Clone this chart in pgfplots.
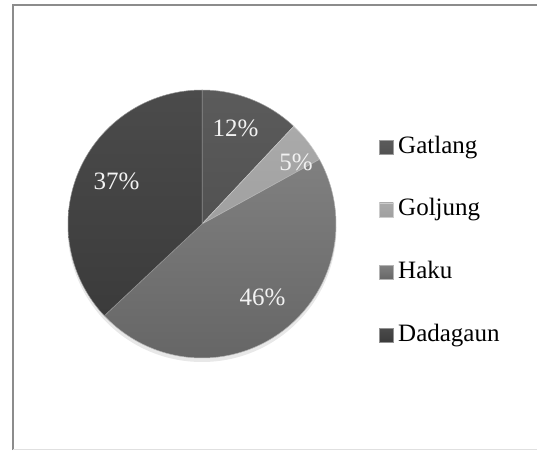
\documentclass[border=0pt]{standalone}
\usepackage{pgfplots}
\pgfplotsset{compat=1.18}
\usepackage{fontspec}
\setmainfont{Liberation Serif}
\definecolor{gatT}{HTML}{5B5B5B}\definecolor{gatB}{HTML}{525252}
\definecolor{golT}{HTML}{AAAAAA}\definecolor{golB}{HTML}{A0A0A0}
\definecolor{hakT}{HTML}{808080}\definecolor{hakB}{HTML}{666666}
\definecolor{dadT}{HTML}{4B4B4B}\definecolor{dadB}{HTML}{3B3B3B}
% percentages
\def\vGat{12}\def\vGol{5}\def\vHak{46}\def\vDad{37}
\pgfmathsetmacro\aA{90}
\pgfmathsetmacro\aB{\aA-3.6*\vGat}
\pgfmathsetmacro\aC{\aB-3.6*\vGol}
\pgfmathsetmacro\aD{\aC-3.6*\vHak}
\pgfmathsetmacro\aE{\aD-3.6*\vDad}
\newcommand\slice[4]{%
  \addplot[top color=#3, bottom color=#4, draw=white!40!#3, line width=0.5pt,
    domain=#2:#1, samples=90, variable=\t]
    ({202+134*cos(\t)},{226+134*sin(\t)}) -- (axis cs:202,226) -- cycle;
}
\begin{document}
\begin{tikzpicture}
\useasboundingbox (0,0) rectangle (537pt,450pt);
\begin{axis}[
  width=537pt, height=450pt, scale only axis,
  xmin=0, xmax=537, ymin=0, ymax=450,
  hide axis, clip=false,
  legend style={at={(axis cs:379,317)}, anchor=north west, draw=none, fill=none,
    font=\fontsize{25}{30}\selectfont, row sep=34.6pt, inner sep=0pt,
    nodes={text height=18pt, text depth=6pt, inner ysep=2pt, inner xsep=4.5pt}},
  legend cell align=left,
  legend image code/.code={\fill[#1] (0pt,-7pt) rectangle (14pt,7pt);},
]
\fill[black!9] (axis cs:202,222.5) circle[radius=134.5pt];
\slice{\aA}{\aB}{gatT}{gatB}
\addlegendentry{Gatlang}
\slice{\aB}{\aC}{golT}{golB}
\addlegendentry{Goljung}
\slice{\aC}{\aD}{hakT}{hakB}
\addlegendentry{Haku}
\slice{\aD}{\aE}{dadT}{dadB}
\addlegendentry{Dadagaun}
\begin{scope}[every node/.style={text=white!95!black, font=\fontsize{25}{30}\selectfont}]
\node at (axis cs:235.5,321.5) {12\%};
\node at (axis cs:296,288) {5\%};
\node at (axis cs:116.5,269) {37\%};
\node at (axis cs:262.5,152.5) {46\%};
\end{scope}
\draw[black!45, line width=1.6pt] (axis cs:13,0) -- (axis cs:13,445) -- (axis cs:537,445);
\draw[black!12, line width=1pt] (axis cs:13,0.8) -- (axis cs:537,0.8);
\end{axis}
\end{tikzpicture}
\end{document}
